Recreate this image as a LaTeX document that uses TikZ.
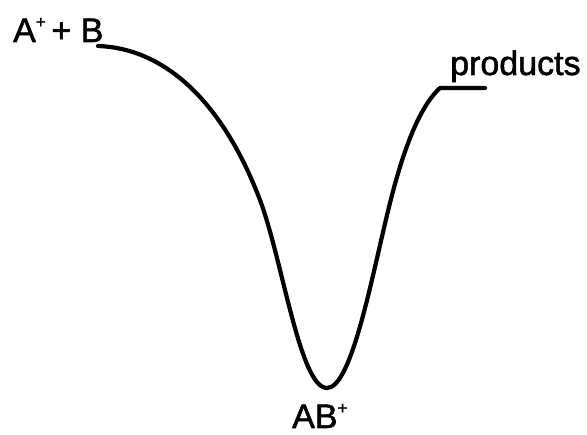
\documentclass[tikz,border=0pt]{standalone}
\usepackage{fontspec}
\setmainfont{Liberation Sans}
\newfontfamily\labelfont[FakeBold=1.6]{Liberation Sans}
\usepackage{tikz}

\newcommand{\ionplus}{\raisebox{0.42em}{\fontsize{17}{17}\selectfont +}}

\begin{document}
\begin{tikzpicture}[
    x=1pt, y=-1pt,
    species/.style={anchor=base west, inner sep=0pt, font=\labelfont\fontsize{34}{40}\selectfont},
    pes/.style={line width=4.2pt, line cap=round, line join=round}
]
\useasboundingbox (0,0) rectangle (587,435);

\node[species] (reac) at (13,42) {A\ionplus\,+ B};
\node[species] (prod) at (450,75) {products};
\node[species] (ion) at (292,428) {AB\ionplus};

\coordinate (start) at (98,46);
\coordinate (slope) at (260,200);
\coordinate (well) at (327,388);
\coordinate (rise) at (390,203);
\coordinate (exit) at (440,88);
\coordinate (stop) at (485,88);

% potential energy curve
\draw[pes] (start) .. controls (160,48) and (220,95) .. (slope)
    .. controls (283,262) and (300,388) .. (well)
    .. controls (352,388) and (372,275) .. (rise)
    .. controls (402,155) and (418,108) .. (exit)
    -- (stop);
\end{tikzpicture}
\end{document}
